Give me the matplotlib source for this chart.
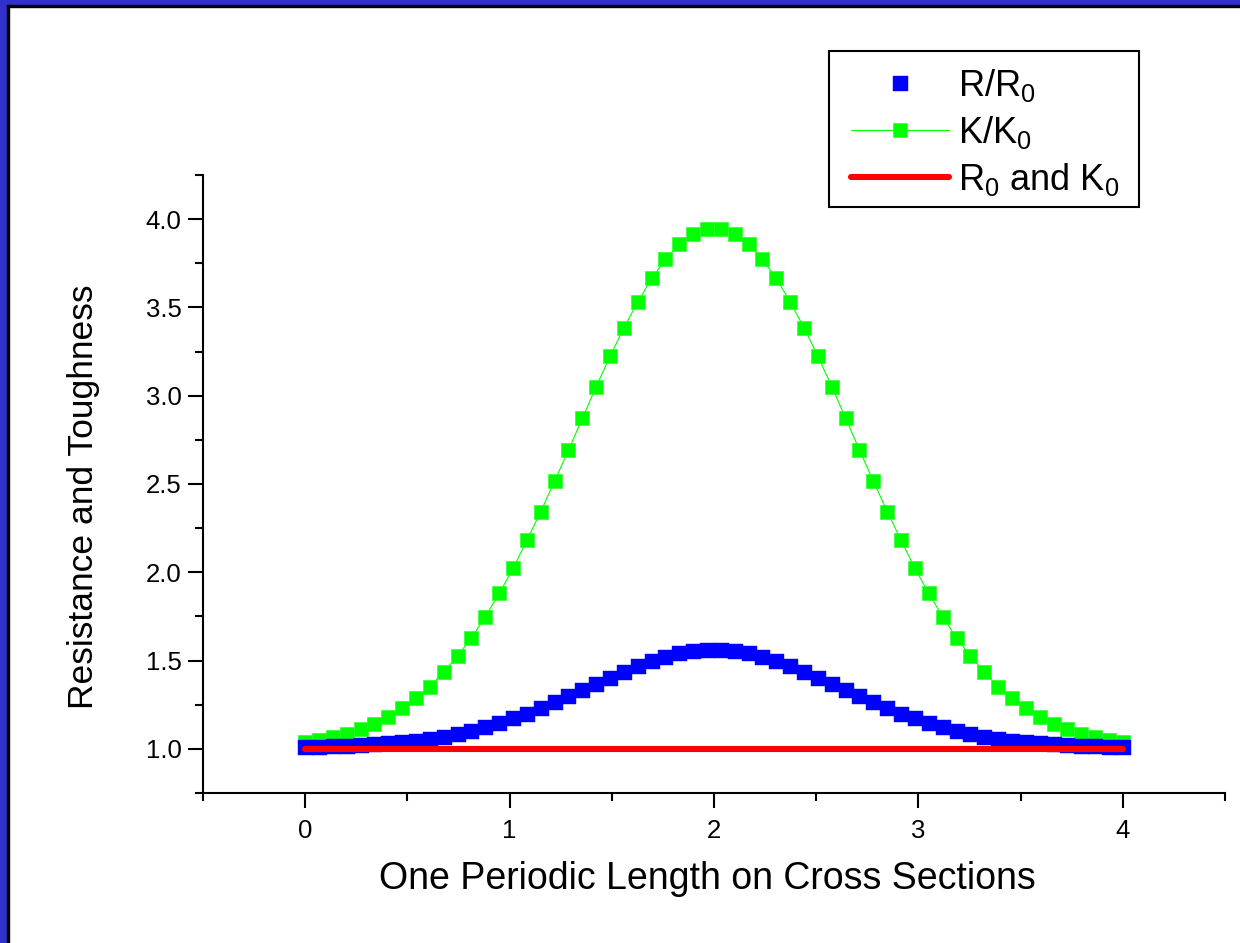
import numpy as np
import matplotlib
matplotlib.use("Agg")
import matplotlib.pyplot as plt
from matplotlib.patches import Rectangle
from matplotlib.ticker import MultipleLocator

plt.rcParams['font.family'] = ['Liberation Sans', 'DejaVu Sans']

# 60 evenly spaced samples over one period (0..4)
x = np.linspace(0, 4, 60)

k_ratio = [1.037, 1.050, 1.065, 1.084, 1.111, 1.143, 1.183, 1.230, 1.289, 1.353,
           1.435, 1.527, 1.628, 1.749, 1.880, 2.022, 2.181, 2.344, 2.516, 2.692,
           2.872, 3.052, 3.223, 3.385, 3.531, 3.664, 3.772, 3.859, 3.916, 3.944,
           3.944, 3.916, 3.859, 3.772, 3.664, 3.531, 3.385, 3.223, 3.052, 2.872,
           2.692, 2.516, 2.344, 2.181, 2.022, 1.880, 1.749, 1.628, 1.527, 1.435,
           1.353, 1.289, 1.230, 1.183, 1.143, 1.111, 1.084, 1.065, 1.050, 1.037]

r_ratio = [1.009, 1.012, 1.014, 1.018, 1.022, 1.026, 1.031, 1.037, 1.045, 1.054,
           1.067, 1.082, 1.103, 1.124, 1.147, 1.173, 1.200, 1.230, 1.264, 1.297,
           1.331, 1.365, 1.401, 1.436, 1.469, 1.497, 1.522, 1.543, 1.556, 1.561,
           1.561, 1.556, 1.543, 1.522, 1.497, 1.469, 1.436, 1.401, 1.365, 1.331,
           1.297, 1.264, 1.230, 1.200, 1.173, 1.147, 1.124, 1.103, 1.082, 1.067,
           1.054, 1.045, 1.037, 1.031, 1.026, 1.022, 1.018, 1.014, 1.012, 1.009]

base_x = [0, 4]
base_y = [1.0, 1.0]

W, H = 1240, 943
fig = plt.figure(figsize=(W / 100, H / 100), dpi=100)
ax = fig.add_axes([0.1637, 0.1591, 0.8242, 0.6553])

ax.plot(x, k_ratio, color='#00FF00', lw=0.8, marker='s', ms=10.2,
        mec='#33FF33', mew=0.5, label=r'K/K$\mathregular{_0}$', zorder=2)
ax.plot(x, r_ratio, ls='none', color='#0000FF', marker='s', ms=10.8,
        mec='#0000FF', mew=0.3, label=r'R/R$\mathregular{_0}$', zorder=3)
ax.plot(base_x, base_y, color='#FF0000', lw=4.4, solid_capstyle='round',
        label=r'R$\mathregular{_0}$ and K$\mathregular{_0}$', zorder=4)

ax.set_xlim(-0.5, 4.5)
ax.set_ylim(0.75, 4.25)
ax.xaxis.set_major_locator(MultipleLocator(1))
ax.xaxis.set_minor_locator(MultipleLocator(0.5))
ax.yaxis.set_major_locator(MultipleLocator(0.5))
ax.yaxis.set_minor_locator(MultipleLocator(0.25))
ax.yaxis.set_major_formatter(plt.FormatStrFormatter('%.1f'))

for s in ['top', 'right']:
    ax.spines[s].set_visible(False)
for s in ['left', 'bottom']:
    ax.spines[s].set_linewidth(1.5)

ax.tick_params(which='major', direction='out', length=10.5, width=1.5,
               labelsize=18.5, pad=5)
ax.tick_params(which='minor', direction='out', length=5.5, width=1.5)
ax.tick_params(axis='x', which='major', pad=8)

ax.set_xlabel('One Periodic Length on Cross Sections', fontsize=27)
ax.xaxis.set_label_coords(0.494, -0.11)
ax.xaxis.label.set_va('top')
ax.set_ylabel('Resistance and Toughness', fontsize=25.5)
ax.yaxis.set_label_coords(-0.117, 0.479)
ax.yaxis.label.set_va('center')

# legend box drawn by hand so the padding matches
fig.add_artist(Rectangle((829 / W, 1 - 207 / H), 310 / W, 156 / H,
                         transform=fig.transFigure, fill=False,
                         edgecolor='black', lw=1.5, zorder=5))
handles, labels = ax.get_legend_handles_labels()
order = [1, 0, 2]
leg = ax.legend([handles[i] for i in order], [labels[i] for i in order],
                loc='upper left', bbox_to_anchor=(851 / W, 1 - 67 / H),
                bbox_transform=fig.transFigure, fontsize=26, frameon=False,
                handlelength=2.7, handletextpad=0.25, borderpad=0,
                labelspacing=0.27, borderaxespad=0)

# window-style border on top and left
fig.add_artist(Rectangle((0, 0), 7 / W, 1, transform=fig.transFigure,
                         color='#3030CC', zorder=10))
fig.add_artist(Rectangle((0, 1 - 5 / H), 1, 5 / H, transform=fig.transFigure,
                         color='#3030CC', zorder=10))
fig.add_artist(Rectangle((7 / W, 0), 1.5 / W, 1 - 5 / H,
                         transform=fig.transFigure, color='black', zorder=10))
fig.add_artist(Rectangle((7 / W, 1 - 6.5 / H), 1, 1.5 / H,
                         transform=fig.transFigure, color='black', zorder=10))

fig.savefig('out.png', dpi=100)
